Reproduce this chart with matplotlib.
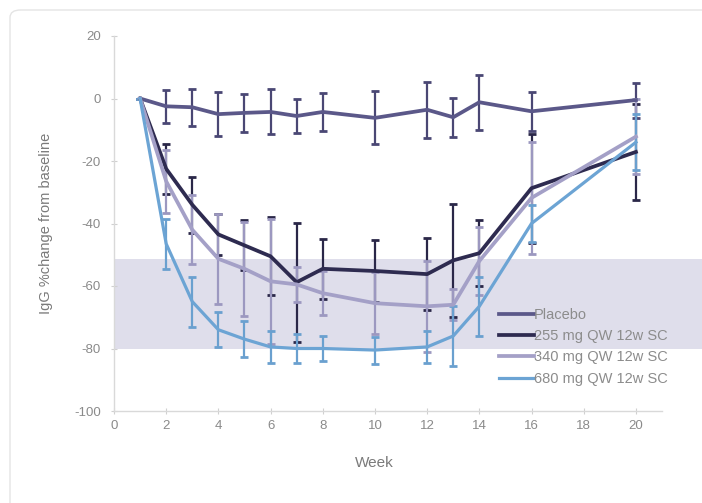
import matplotlib
matplotlib.use("Agg")
import matplotlib.pyplot as plt
from matplotlib.patches import FancyBboxPatch

plt.rcParams['font.family'] = ['Liberation Sans', 'DejaVu Sans']
plt.rcParams['axes.unicode_minus'] = False

weeks = [1, 2, 3, 4, 5, 6, 7, 8, 10, 12, 13, 14, 16, 20]

placebo = [0, -2.5, -2.8, -5, -4.6, -4.3, -5.6, -4.3, -6.2, -3.6, -6, -1.2, -4.1, -0.5]
placebo_err = [0, 5.2, 6, 7, 6, 7.2, 5.4, 6.2, 8.5, 9, 6.2, 8.8, 6.3, 5.6]

mg255 = [0, -22.5, -34, -43.5, -47, -50.5, -58.8, -54.5, -55.2, -56.2, -51.8, -49.5, -28.7, -17.1]
mg255_err = [0, 8, 9, 6.5, 8, 12.5, 19, 9.5, 10, 11.5, 18, 10.5, 17.5, 15.5]

mg340 = [0, -26.5, -42, -51.3, -54.5, -58.5, -59.5, -62.3, -65.5, -66.5, -66, -52, -31.8, -12.2]
mg340_err = [0, 10, 11, 14.5, 15, 20, 5.5, 7, 10, 14.5, 5, 11, 18, 12]

mg680 = [0, -46.5, -65, -74, -77, -79.5, -80, -80, -80.5, -79.5, -76, -66.5, -40, -14]
mg680_err = [0, 8, 8, 5.6, 5.8, 5, 4.5, 4, 4.3, 5, 9.6, 9.5, 6, 9]

labels = ['Placebo', '255 mg QW 12w SC', '340 mg QW 12w SC', '680 mg QW 12w SC']
colors = ['#5b5889', '#2e2b50', '#a4a0c7', '#6ca4d4']
err_colors = ['#4a4774', '#2a2748', '#9c98c0', '#6aa0cf']

xticks = [0, 2, 4, 6, 8, 10, 12, 14, 16, 18, 20]
yticks = [-100, -80, -60, -40, -20, 0, 20]
band = (-80, -51.5)

fig = plt.figure(figsize=(7.02, 5.03), dpi=100)
fig.patch.set_facecolor('white')

card = FancyBboxPatch((10 / 702, -0.05), 1.1, 1 - 10 / 503 + 0.05,
                      boxstyle="round,pad=0,rounding_size=0.015",
                      transform=fig.transFigure, facecolor='white',
                      edgecolor='#e4e4e4', linewidth=1.0, zorder=-5)
fig.patches.append(card)

ax = fig.add_axes([114 / 702, 1 - 411 / 503, 548 / 702, 375 / 503])
ax.set_zorder(1)
ax.set_facecolor('none')
ax.set_xlim(0, 21)
ax.set_ylim(-100, 20)

ax.axhspan(band[0], band[1], xmin=0, xmax=(702 - 114) / 548, facecolor='#dfdeeb',
           edgecolor='none', clip_on=False, zorder=0)

series = [(placebo, placebo_err), (mg255, mg255_err), (mg340, mg340_err), (mg680, mg680_err)]
order = [2, 3, 1, 0]
lws = [2.7, 2.7, 2.7, 2.3]
handles = [None] * 4
for i in order:
    vals, errs = series[i]
    ax.errorbar(weeks, vals, yerr=errs, fmt='none', ecolor=err_colors[i],
                elinewidth=1.6, capsize=3, capthick=2.0, zorder=2 + i * 0.1)
    ln, = ax.plot(weeks, vals, color=colors[i], lw=lws[i], zorder=3 + i * 0.1,
                  solid_joinstyle='round', label=labels[i])
    handles[i] = ln

for s in ['top', 'right']:
    ax.spines[s].set_visible(False)
for s in ['left', 'bottom']:
    ax.spines[s].set_color('#d9d9d9')
    ax.spines[s].set_linewidth(1.0)

ax.set_xticks(xticks)
ax.set_yticks(yticks)
ax.tick_params(axis='both', colors='#d0d0d0', labelcolor='#8a8a8a', labelsize=9.5,
               length=5, width=0.8, direction='inout')
ax.tick_params(axis='x', pad=4)
ax.tick_params(axis='y', pad=7)

ax.set_xlabel('Week', color='#7a7a7a', fontsize=11)
ax.xaxis.set_label_coords((374 - 114) / 548, -(456 - 411) / 375)
ax.set_ylabel('IgG %change from baseline', color='#7a7a7a', fontsize=10.5)
ax.yaxis.set_label_coords(-(114 - 53) / 548, 0.5)

leg = ax.legend(handles=handles, labels=labels, loc='upper left',
                bbox_to_anchor=(493 / 702, 1 - 302 / 503), bbox_transform=fig.transFigure,
                frameon=False, fontsize=10.5, handlelength=2.4, handletextpad=0.0,
                labelspacing=0.5, borderaxespad=0)
for t in leg.get_texts():
    t.set_color('#8c8c8c')

fig.savefig('out.png', dpi=100, facecolor='white')
